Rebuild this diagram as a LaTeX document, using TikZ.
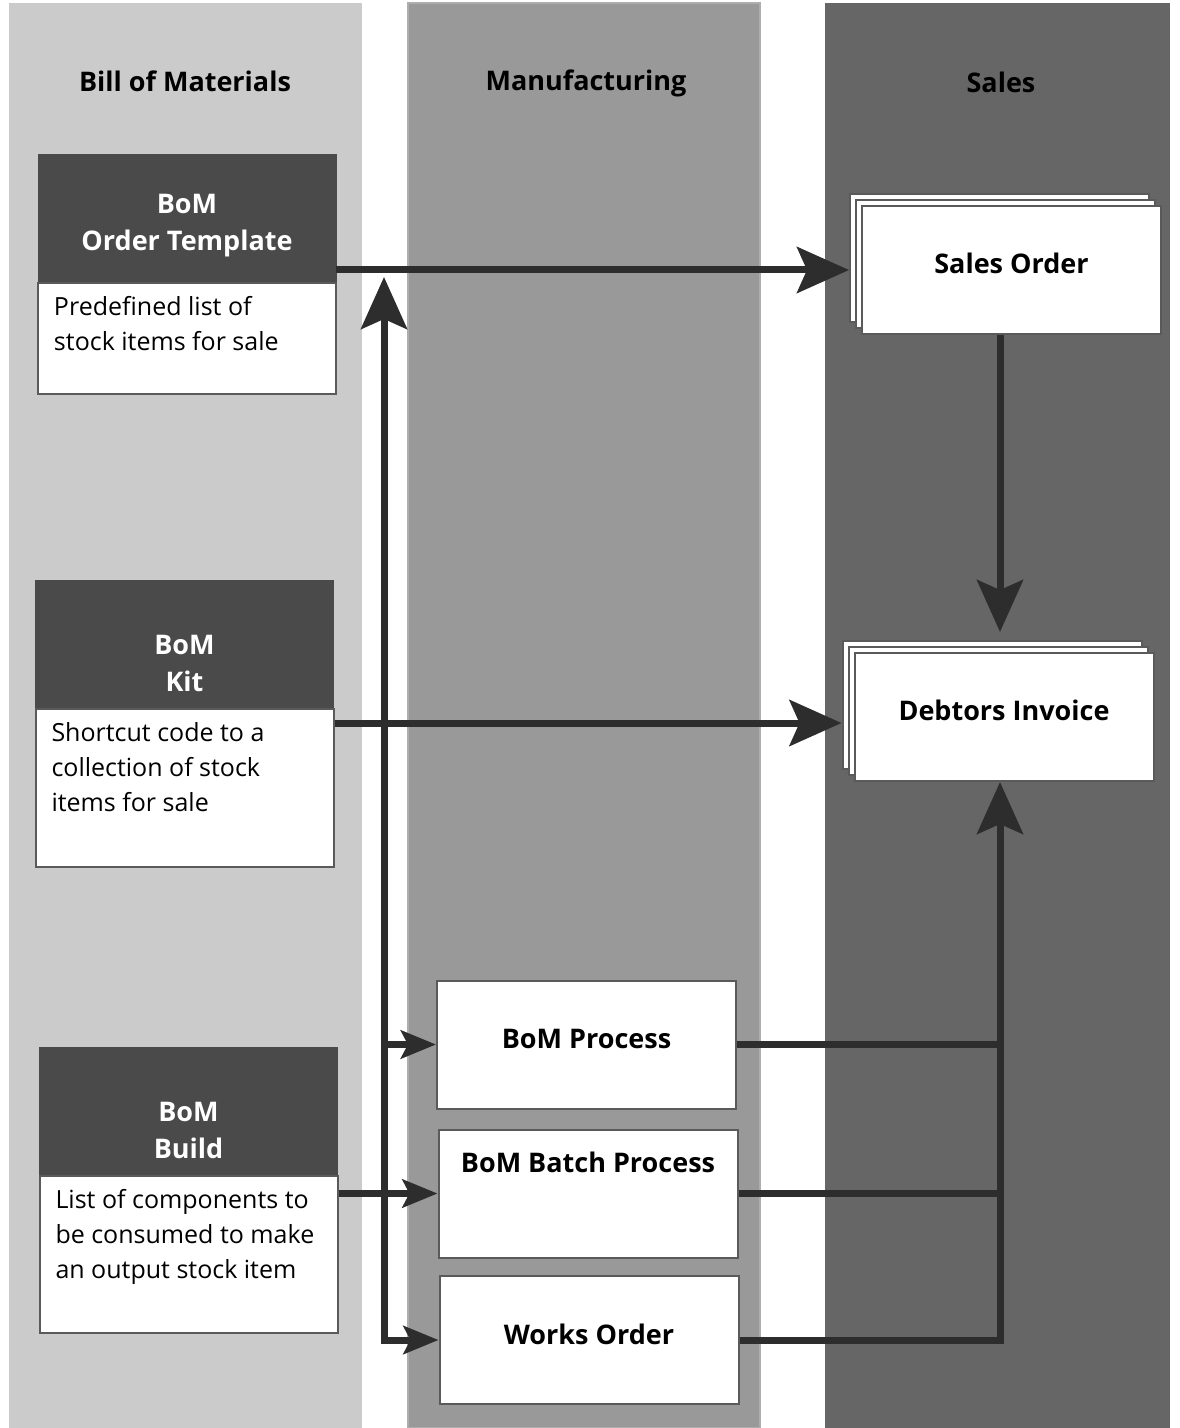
\documentclass[tikz,border=0pt]{standalone}
\usepackage{fontspec}
\setmainfont{Open Sans}
\usepackage{tikz}
\usetikzlibrary{arrows.meta, positioning, calc, shadows}
\usepackage{xcolor}
\definecolor{laneA}{HTML}{CBCBCB}
\definecolor{laneB}{HTML}{999999}
\definecolor{laneC}{HTML}{666666}
\definecolor{headgray}{HTML}{4A4A4A}
\definecolor{flowgray}{HTML}{2D2D2D}
\definecolor{edgegray}{HTML}{5A5A5A}
\newcommand{\headtext}[2]{\parbox[c][64pt][t]{149pt}{\centering\vspace*{#1}#2}}
\newcommand{\bodytext}[2]{\parbox[t][#1][t]{133pt}{\raggedright #2}}

\begin{document}
\begin{tikzpicture}[x=0.5pt, y=-0.5pt,
  title/.style={font=\fontsize{13.5}{18.5}\selectfont\bfseries, anchor=base},
  head/.style={fill=headgray, draw=headgray, text=white, minimum width=149pt, minimum height=64pt, inner sep=0pt, font=\fontsize{13.5}{18.5}\selectfont\bfseries},
  body/.style={fill=white, draw=edgegray, line width=1pt, inner xsep=8pt, inner ysep=6.5pt, anchor=north, font=\fontsize{12.5}{17.5}\selectfont},
  card/.style={fill=white, draw=edgegray, line width=1pt, minimum width=149.5pt, minimum height=64pt, text depth=6pt, font=\fontsize{13.5}{18.5}\selectfont\bfseries},
  stack/.style={card, text depth=7pt, copy shadow={shadow xshift=-6pt, shadow yshift=6pt, fill=white, draw=edgegray, line width=1pt}, copy shadow={shadow xshift=-3pt, shadow yshift=3pt, fill=white, draw=edgegray, line width=1pt}},
  flow/.style={draw=flowgray, line width=3.5pt},
  bigtip/.tip={Stealth[length=26pt, width=23pt, inset=5pt]},
  smalltip/.tip={Stealth[length=17.5pt, width=14pt, inset=3.5pt]}]
  \useasboundingbox (0,0) rectangle (1179,1428);
  \fill[laneA] (9,3) rectangle (362,1428);
  \filldraw[fill=laneB, draw=laneB!80!white, line width=1pt] (408,3) rectangle (760,1428);
  \fill[laneC] (825,3) rectangle (1170,1428);
  \node[title] (bomtitle) at (185,92) {Bill of Materials};
  \node[title] (mantitle) at (586,91) {Manufacturing};
  \node[title] (saletitle) at (1001,93) {Sales};

  \node[head] (tmplhead) at (187,218) {\headtext{20pt}{BoM\\Order Template}};
  \node[body] (tmplbody) at (tmplhead.south) {\bodytext{42.5pt}{Predefined list of\\stock items for sale}};
  \node[head] (kithead) at (184.5,644) {\headtext{27.5pt}{BoM\\Kit}};
  \node[body] (kitbody) at (kithead.south) {\bodytext{66pt}{Shortcut code to a\\collection of stock\\items for sale}};
  \node[head] (buildhead) at (188.5,1111) {\headtext{27.5pt}{BoM\\Build}};
  \node[body] (buildbody) at (buildhead.south) {\bodytext{65.5pt}{List of components to\\be consumed to make\\an output stock item}};

  \node[card] (bomproc) at (586.5,1044.5) {BoM Process};
  \node[card, text depth=31.5pt] (batch) at (588,1193.5) {BoM Batch Process};
  \node[card] (works) at (589,1340) {Works Order};
  \node[stack] (salesord) at (1011.5,270) {Sales Order};
  \node[stack] (debinv) at (1004,717) {Debtors Invoice};

  \coordinate (bustop) at (384,277);
  \coordinate (sbus) at (1000,1340);
  \draw[flow, -{bigtip}] (tmplhead.east |- salesord.west) -- ([xshift=-6pt]salesord.west);
  \draw[flow, -{bigtip}] ([yshift=-3pt]kitbody.east |- debinv.west) -- ([xshift=-6pt, yshift=-3pt]debinv.west);
  \draw[flow, {bigtip}-{smalltip}] (bustop) |- (works.west);
  \draw[flow, -{smalltip}] (bustop |- bomproc.west) -- (bomproc.west);
  \draw[flow, -{smalltip}] (buildbody.east |- batch.west) -- (batch.west);
  \draw[flow, -{bigtip}] (sbus |- salesord.south) -- ([yshift=10pt]sbus |- debinv.north);
  \draw[flow] (bomproc.east) -- (bomproc.east -| sbus);
  \draw[flow] (batch.east) -- (batch.east -| sbus);
  \draw[flow, -{bigtip}] (works.east) -| (debinv.south -| sbus);
\end{tikzpicture}
\end{document}
